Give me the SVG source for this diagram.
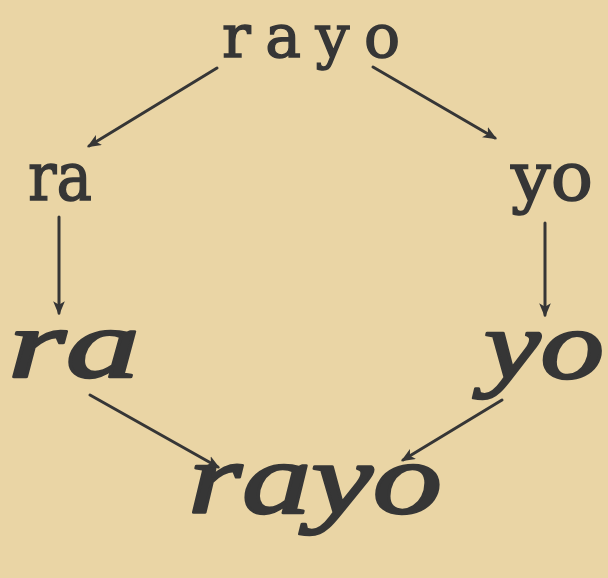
<svg xmlns="http://www.w3.org/2000/svg" width="608" height="578" viewBox="0 0 608 578">
<style>
.bg{fill:#ead5a5}
.print{font-family:"DejaVu Serif","Liberation Serif",serif;font-weight:normal;fill:#363636;stroke:#363636;stroke-width:1.5}
.script{font-family:"Liberation Serif","DejaVu Serif",serif;font-style:italic;font-weight:normal;fill:#363636;stroke:#363636;stroke-width:2.5;stroke-linejoin:round}
.arrow{stroke:#363636;stroke-width:3;fill:none;stroke-linecap:round}
</style>
<defs>
<marker id="ah" viewBox="0 0 12 10" refX="10" refY="5" markerWidth="14" markerHeight="12" markerUnits="userSpaceOnUse" orient="auto">
<path d="M0,0 L12,5 L0,10 L3,5 Z" fill="#363636"/>
</marker>
</defs>
<rect class="bg" x="0" y="0" width="608" height="578"/>
<g id="rayo-print"><text class="print" x="222" y="57" font-size="60" textLength="178" lengthAdjust="spacing">rayo</text></g>
<g id="ra-print"><text class="print" x="28" y="200" font-size="68" textLength="64" lengthAdjust="spacingAndGlyphs">ra</text></g>
<g id="yo-print"><text class="print" x="511" y="200" font-size="68" textLength="82" lengthAdjust="spacingAndGlyphs">yo</text></g>
<g id="ra-script"><text class="script" x="8" y="377" font-size="98" textLength="132" lengthAdjust="spacingAndGlyphs">ra</text></g>
<g id="yo-script"><text class="script" x="484" y="378" font-size="98" textLength="120" lengthAdjust="spacingAndGlyphs">yo</text></g>
<g id="rayo-script"><text class="script" x="188" y="513" font-size="102" textLength="254" lengthAdjust="spacingAndGlyphs">rayo</text></g>
<g id="connectors">
<line class="arrow" x1="217" y1="68" x2="89" y2="146" marker-end="url(#ah)"/>
<line class="arrow" x1="373" y1="67" x2="495" y2="138" marker-end="url(#ah)"/>
<line class="arrow" x1="59" y1="217" x2="59" y2="313" marker-end="url(#ah)"/>
<line class="arrow" x1="545" y1="223" x2="545" y2="315" marker-end="url(#ah)"/>
<line class="arrow" x1="90" y1="395" x2="218" y2="467" marker-end="url(#ah)"/>
<line class="arrow" x1="502" y1="400" x2="403" y2="460" marker-end="url(#ah)"/>
</g>
</svg>
